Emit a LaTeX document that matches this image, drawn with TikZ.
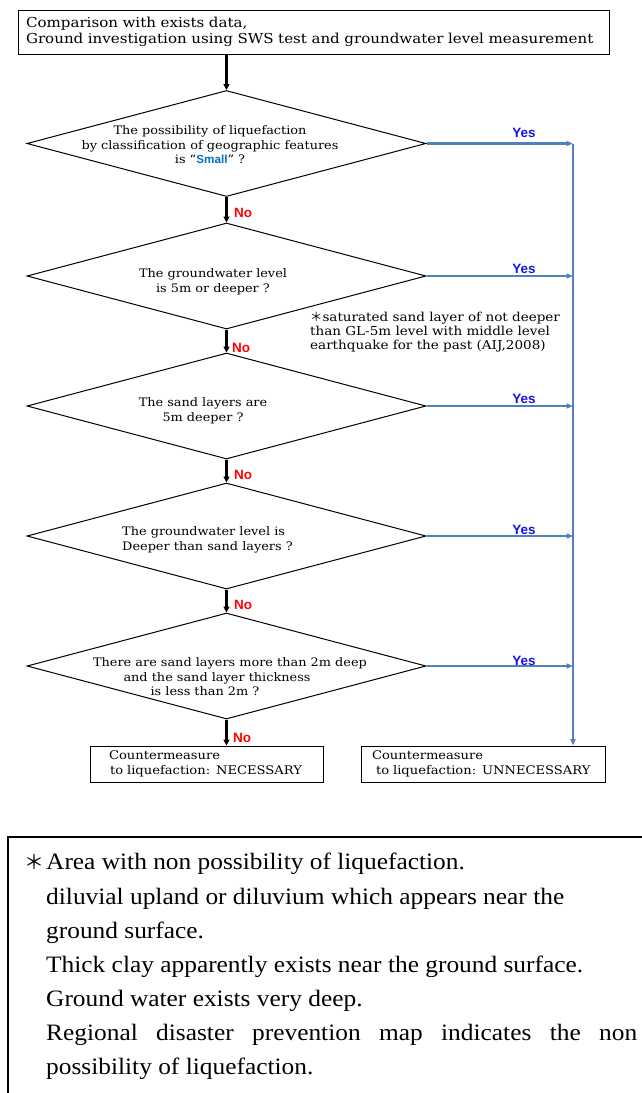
\documentclass[tikz,border=0pt]{standalone}
\usepackage{fontspec}
\setmainfont{DejaVu Serif}[FakeStretch=1.1]
\newfontfamily\tnr{Liberation Serif}[FakeStretch=1.08]
\newfontfamily\sans{Liberation Sans}
\newfontfamily\cjk{Noto Sans CJK JP}
\usetikzlibrary{shapes.geometric,arrows.meta}
\definecolor{yesblue}{RGB}{20,20,230}
\definecolor{lineblue}{RGB}{79,129,189}
\definecolor{smallblue}{RGB}{0,112,192}
\definecolor{nored}{RGB}{255,0,0}
\begin{document}
\begin{tikzpicture}[x=1pt,y=-1pt,
  box/.style={draw,line width=1pt,inner sep=0},
  dia/.style={draw,diamond,minimum width=399pt,minimum height=106pt,inner sep=0,line width=1pt},
  dtext/.style={font=\fontsize{11.7}{14.5}\selectfont,inner sep=0},
  blk/.style={line width=2.2pt,-{Triangle[length=6pt,width=6pt]}},
  blu/.style={draw=lineblue,line width=2.2pt,-{Triangle[length=6.5pt,width=5pt]}},
  yes/.style={font=\sans\bfseries\fontsize{13.5}{13.5}\selectfont,text=yesblue,inner sep=0},
  no/.style={font=\sans\bfseries\fontsize{13.5}{13.5}\selectfont,text=nored,inner sep=0,anchor=west},
  btxt/.style={font=\tnr\fontsize{23.5}{23.5}\selectfont,inner sep=0,anchor=base west},
]
\useasboundingbox (0,0) rectangle (642,1093);
\clip (0,0) rectangle (642,1093);
% top box
\node[box,minimum width=591pt,minimum height=44pt,text width=575pt,align=left,
  font=\fontsize{13.7}{16}\selectfont] (top) at (313.5,32)
  {Comparison with exists data,\\Ground investigation using SWS test and groundwater level measurement};
% diamonds
\node[dia] (d1) at (226.5,143.5) {};
\node[dia] (d2) at (226.5,276) {};
\node[dia] (d3) at (226.5,406) {};
\node[dia] (d4) at (226.5,536) {};
\node[dia] (d5) at (226.5,666) {};
% diamond texts
\node[dtext,align=center] (t1) at (210,145)
  {The possibility of liquefaction\\by classification of geographic features\\is “{\sans\bfseries\color{smallblue}Small}” ?};
\node[dtext,align=center] (t2) at (213,282) {The groundwater level\\is 5m or deeper ?};
\node[dtext,align=center] (t3) at (203,411) {The sand layers are\\5m deeper ?};
\node[dtext,align=left,anchor=west] (t4) at (122,540) {The groundwater level is\\Deeper than sand layers ?};
\node[dtext,align=center] (t5) at (230,677)
  {There are sand layers more than 2m deep\\and the sand layer thickness\rule{26pt}{0pt}\\is less than 2m ?\hspace*{50pt}};
% note
\node[dtext,align=left,anchor=west,font=\fontsize{12.3}{14}\selectfont] (note) at (310,332)
  {{\cjk ＊}saturated sand layer of not deeper\\than GL-5m level with middle level\\earthquake for the past (AIJ,2008)};
% result boxes
\node[box,minimum width=233pt,minimum height=36pt,text width=195pt,align=left,
  font=\fontsize{11.9}{15}\selectfont] (nb) at (206.5,764)
  {Countermeasure\\\hspace*{1pt}to liquefaction: NECESSARY};
\node[box,minimum width=244pt,minimum height=36pt,text width=222pt,align=left,
  font=\fontsize{11.9}{15}\selectfont] (ub) at (483,764)
  {Countermeasure\\\hspace*{4pt}to liquefaction: UNNECESSARY};
% black arrows
\draw[blk] (d1.north |- top.south) -- (d1.north);
\draw[blk] (d1.south) -- (d2.north);
\draw[blk] (d2.south) -- (d3.north);
\draw[blk] (d3.south) -- (d4.north);
\draw[blk] (d4.south) -- (d5.north);
\draw[blk] (d5.south) -- (d5.south |- nb.north);
% No labels
\node[no] (n1) at (234,213) {No};
\node[no] (n2) at (232,348) {No};
\node[no] (n3) at (234,475) {No};
\node[no] (n4) at (234,605) {No};
\node[no] (n5) at (233,738) {No};
% blue connectors
\coordinate (j1) at (573,143.5);
\coordinate (j2) at (573,276);
\coordinate (j3) at (573,406);
\coordinate (j4) at (573,536);
\coordinate (j5) at (573,666);
\draw[blu] (d1.east) -- (j1);
\draw[blu] (d2.east) -- (j2);
\draw[blu] (d3.east) -- (j3);
\draw[blu] (d4.east) -- (j4);
\draw[blu] (d5.east) -- (j5);
\draw[blu] (j1) -- (j1 |- ub.north);
% Yes labels
\node[yes] (y1) at (524,133) {Yes};
\node[yes] (y2) at (524,269) {Yes};
\node[yes] (y3) at (524,399) {Yes};
\node[yes] (y4) at (524,530) {Yes};
\node[yes] (y5) at (524,661) {Yes};
% bottom note box
\node[draw,line width=1.6pt,anchor=north west,minimum width=700pt,minimum height=300pt,inner sep=0] (nbox) at (7,836) {};
\node[btxt,font=\cjk\fontsize{20}{20}\selectfont] (ast) at (24,869) {＊};
\node[btxt] (b1) at (46,869) {Area with non possibility of liquefaction.};
\node[btxt] (b2) at (46,904) {diluvial upland or diluvium which appears near the};
\node[btxt] (b3) at (46,938) {ground surface.};
\node[btxt] (b4) at (46,972) {Thick clay apparently exists near the ground surface.};
\node[btxt] (b5) at (46,1006) {Ground water exists very deep.};
\node[btxt] (b6) at (46,1040) {\makebox[591pt][s]{Regional disaster prevention map indicates the non}};
\node[btxt] (b7) at (46,1074) {possibility of liquefaction.};
\end{tikzpicture}
\end{document}
